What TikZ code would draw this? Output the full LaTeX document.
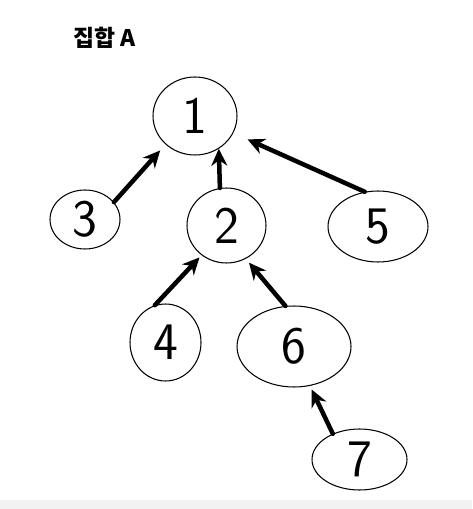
\documentclass[tikz,border=0pt]{standalone}
\usepackage{fontspec}
\newfontfamily\krfont{Noto Sans CJK KR}
\usetikzlibrary{arrows.meta,shapes.geometric}

\begin{document}
\begin{tikzpicture}[x=0.02cm,y=-0.02cm,>={Stealth[length=0.34cm,width=0.32cm]},
  elem/.style={draw,ellipse,line width=0.6pt,inner sep=0pt,
    font=\sffamily\fontsize{30}{30}\selectfont},
  link/.style={->,line width=0.09cm,line cap=round}]
% ---------- canvas, grey strip at the foot ----------
\useasboundingbox (0,0) rectangle (472,509);
\fill[black!5] (0,500) rectangle (472,509);
% ---------- title ----------
\node[anchor=west,inner sep=0pt,font=\krfont\bfseries\fontsize{13}{15}\selectfont] (title) at (73,38) {집합 A};
% ---------- elements of set A ----------
\node[elem,minimum width=1.68cm,minimum height=1.56cm] (n1) at (195,116)   {1};
\node[elem,minimum width=1.40cm,minimum height=1.18cm] (n3) at (85,219.5)  {3};
\node[elem,minimum width=1.58cm,minimum height=1.50cm] (n2) at (226.5,225.5) {2};
\node[elem,minimum width=2.00cm,minimum height=1.42cm] (n5) at (378,226.5) {5};
\node[elem,minimum width=1.42cm,minimum height=1.54cm] (n4) at (165.5,342.5) {4};
\node[elem,minimum width=2.28cm,minimum height=1.62cm] (n6) at (294,346.5) {6};
\node[elem,minimum width=1.90cm,minimum height=1.22cm] (n7) at (359.5,459.5) {7};
% ---------- child -> parent links ----------
\draw[link,shorten >=0.16cm] (n3.31)  -- (n1.224);
\draw[link]                  (n2.100) -- (n1.306);
\draw[link,shorten >=0.31cm] (n5.111) -- (n1.336);
\draw[link,shorten >=0.06cm] (n4.106) -- (n2.230);
\draw[link,shorten >=0.10cm] (n6.102) -- (n2.300);
\draw[link,shorten >=0.08cm] (n7.136) -- (n6.292);
\end{tikzpicture}
\end{document}
